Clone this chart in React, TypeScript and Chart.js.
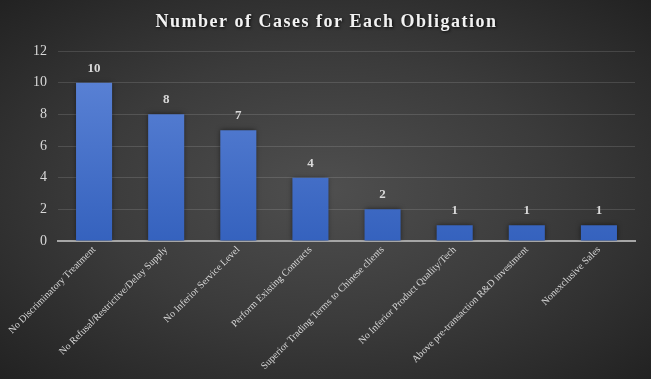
import React, { useEffect, useRef } from "react";
import { Chart, registerables } from "chart.js";

Chart.register(...registerables);

const categories = [
  "No Discriminatory Treatment",
  "No Refusal/Restrictive/Delay Supply",
  "No Inferior Service Level",
  "Perform Existing Contracts",
  "Superior Trading Terms to Chinese clients",
  "No Inferior Product Quality/Tech",
  "Above pre-transaction R&D investment",
  "Nonexclusive Sales",
];
const caseCounts = [10, 8, 7, 4, 2, 1, 1, 1];
const yTicks = [0, 2, 4, 6, 8, 10, 12];
const titleText = "Number of Cases for Each Obligation";

const SERIF = "'Liberation Serif', 'Times New Roman', serif";

const shadowPlugin = {
  id: "barShadow",
  beforeDatasetsDraw(chart: any) {
    const ctx = chart.ctx;
    ctx.save();
    ctx.shadowColor = "rgba(0,0,0,0.55)";
    ctx.shadowBlur = 5;
    ctx.shadowOffsetX = 0;
    ctx.shadowOffsetY = 0;
  },
  afterDatasetsDraw(chart: any) {
    const ctx = chart.ctx;
    ctx.restore();
    const meta = chart.getDatasetMeta(0);
    ctx.save();
    ctx.font = `bold 13px ${SERIF}`;
    ctx.fillStyle = "#d9d9d9";
    ctx.textAlign = "center";
    ctx.textBaseline = "bottom";
    meta.data.forEach((bar: any, i: number) => {
      ctx.fillText(String(chart.data.datasets[0].data[i]), bar.x, bar.y - 8);
    });
    ctx.restore();
  },
};

const titlePlugin = {
  id: "customTitle",
  afterDraw(chart: any) {
    const ctx = chart.ctx;
    ctx.save();
    ctx.font = `bold 18px ${SERIF}`;
    (ctx as any).letterSpacing = "1.5px";
    ctx.textAlign = "center";
    ctx.textBaseline = "middle";
    ctx.shadowColor = "rgba(0,0,0,0.8)";
    ctx.shadowBlur = 3;
    ctx.shadowOffsetX = 1;
    ctx.shadowOffsetY = 1;
    ctx.fillStyle = "#f2f2f2";
    ctx.fillText(titleText, chart.width / 2 + 1, 22);
    ctx.restore();
  },
};

export default function App() {
  const ref = useRef<HTMLCanvasElement | null>(null);
  useEffect(() => {
    document.body.style.margin = "0";
    const canvas = ref.current!;
    const chart = new Chart(canvas, {
      type: "bar",
      data: {
        labels: categories,
        datasets: [
          {
            data: caseCounts,
            backgroundColor: (c: any) => {
              const area = c.chart.chartArea;
              if (!area) return "#4472c4";
              const g = c.chart.ctx.createLinearGradient(0, area.top, 0, area.bottom);
              g.addColorStop(0, "#5f86d8");
              g.addColorStop(1, "#3562be");
              return g;
            },
            borderWidth: 0,
            barPercentage: 0.5,
            categoryPercentage: 1,
          },
        ],
      },
      options: {
        animation: false,
        responsive: false,
        maintainAspectRatio: false,
        layout: { padding: { top: 51, right: 16, left: 22, bottom: 0 } },
        plugins: {
          legend: { display: false },
          title: { display: false },
          tooltip: { enabled: false },
        },
        scales: {
          x: {
            grid: { display: false, drawTicks: false },
            border: { display: true, color: "#a6a6a6", width: 2 },
            ticks: {
              color: "#d9d9d9",
              font: { family: SERIF, size: 10 },
              minRotation: 45,
              maxRotation: 45,
              padding: 3,
              autoSkip: false,
            },
            afterFit: (scale: any) => {
              scale.height = 138;
            },
          },
          y: {
            min: 0,
            max: 12,
            afterBuildTicks: (axis: any) => {
              axis.ticks = yTicks.map((v) => ({ value: v }));
            },
            grid: { color: "rgba(255,255,255,0.13)", lineWidth: 1, drawTicks: false },
            border: { display: false },
            ticks: {
              color: "#d9d9d9",
              font: { family: SERIF, size: 14 },
              padding: 11,
            },
          },
        },
      },
      plugins: [shadowPlugin, titlePlugin],
    });
    return () => chart.destroy();
  }, []);
  return (
    <div
      style={{
        position: "fixed",
        left: 0,
        top: 0,
        width: 651,
        height: 379,
        background:
          "radial-gradient(ellipse farthest-corner at 50% 50%, #4f4f4f 0%, #3b3b3b 50%, #222222 100%)",
      }}
    >
      <canvas ref={ref} width={651} height={379} style={{ display: "block" }} />
    </div>
  );
}
